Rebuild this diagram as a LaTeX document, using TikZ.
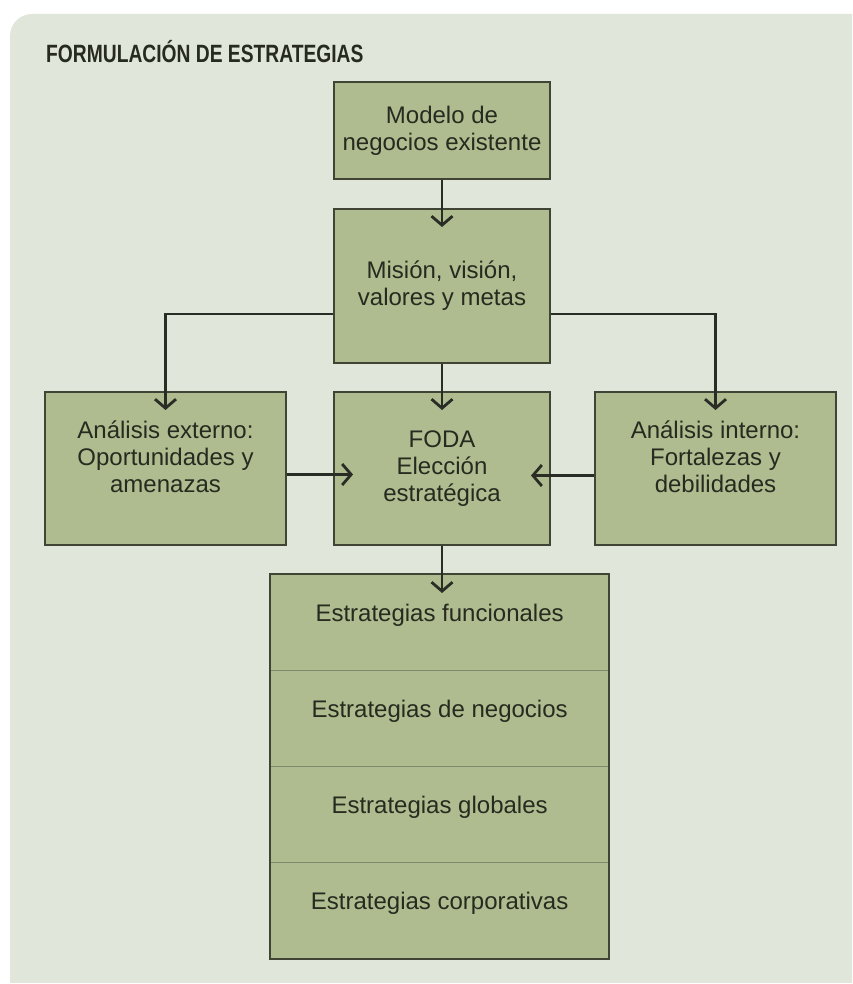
\documentclass[tikz,border=0pt]{standalone}
\usepackage{fontspec}
\setmainfont{Liberation Sans}
\newfontfamily\titlefont[FakeStretch=0.77]{Liberation Sans}
\usetikzlibrary{arrows.meta}
\definecolor{panelc}{HTML}{E1E6DB}
\definecolor{boxc}{HTML}{AFBC8F}
\definecolor{edgec}{HTML}{3F4435}
\definecolor{dividerc}{HTML}{7F8A6C}
\definecolor{inkc}{HTML}{262A1F}
\definecolor{arrowc}{HTML}{2A2D26}
\tikzset{
  box/.style={rectangle, draw=edgec, fill=boxc, line width=2pt, inner sep=0pt,
    anchor=north west, text=inkc, align=center,
    font=\fontsize{24}{27}\selectfont},
  boxtext/.style={text=inkc, align=center, inner sep=0pt,
    font=\fontsize{24}{27}\selectfont},
  layer/.style={rectangle, draw=dividerc, fill=boxc, line width=1.2pt,
    inner sep=0pt, anchor=north west, minimum width=338pt, minimum height=96pt},
  arr/.style={draw=arrowc, line width=2.8pt,
    -{Straight Barb[length=9pt,width=21pt,line width=2.8pt]}},
  heading/.style={anchor=base west, inner sep=0pt, text=inkc,
    font=\titlefont\bfseries\fontsize{25}{28}\selectfont}
}
\begin{document}
\begin{tikzpicture}[x=1pt,y=-1pt]
\useasboundingbox (0,0) rectangle (852,984);
% background panel with a rounded upper-left corner
\begin{scope}
  \clip (0,0) rectangle (852,982);
  \fill[panelc, rounded corners=22pt] (10,14) rectangle (900,1020);
\end{scope}

\node[heading] (title) at (46,63) {FORMULACIÓN DE ESTRATEGIAS};

% upper chain
\node[box, minimum width=216pt, minimum height=97pt] (modelo) at (333,81)
  {Modelo de\\negocios existente};
\node[box, minimum width=216pt, minimum height=154pt] (mision) at (333,208)
  {Misión, visión,\\valores y metas};

% middle row
\node[box, minimum width=241pt, minimum height=153pt] (externo) at (44,391) {};
\node[boxtext] (externotxt) at ([yshift=12pt]externo.center)
  {Análisis externo:\\Oportunidades y\\amenazas};
\node[box, minimum width=216pt, minimum height=153pt] (foda) at (333,391)
  {FODA\\Elección\\estratégica};
\node[box, minimum width=241pt, minimum height=153pt] (interno) at (594,391) {};
\node[boxtext] (internotxt) at ([yshift=12pt]interno.center)
  {Análisis interno:\\Fortalezas y\\debilidades};

% stacked strategy levels
\node[layer] (s1) at (270,574) {};
\node[layer] (s2) at (270,670) {};
\node[layer] (s3) at (270,766) {};
\node[layer] (s4) at (270,862) {};
\node[boxtext] (t1) at ([yshift=7pt]s1.center) {Estrategias funcionales};
\node[boxtext] (t2) at ([yshift=7pt]s2.center) {Estrategias de negocios};
\node[boxtext] (t3) at ([yshift=7pt]s3.center) {Estrategias globales};
\node[boxtext] (t4) at ([yshift=7pt]s4.center) {Estrategias corporativas};
\draw[draw=edgec, line width=2pt] (s1.north west) rectangle (s4.south east);

% connectors
\draw[arr, shorten >=-19pt] (modelo.south) -- (mision.north);
\draw[arr] ([yshift=-28pt]mision.west) -| ([yshift=-19pt]externo.north);
\draw[arr] ([yshift=-28pt]mision.east) -| ([yshift=-19pt]interno.north);
\draw[arr, shorten >=-19pt] (mision.south) -- (foda.north);
\draw[arr] ([yshift=-6pt]externo.east) -- ([xshift=20pt,yshift=-6pt]foda.west);
\draw[arr] ([yshift=-7pt]interno.west) -- ([xshift=-20pt,yshift=-7pt]foda.east);
\draw[arr, shorten >=-19pt] (foda.south) -- (foda.south |- s1.north);
\end{tikzpicture}
\end{document}
